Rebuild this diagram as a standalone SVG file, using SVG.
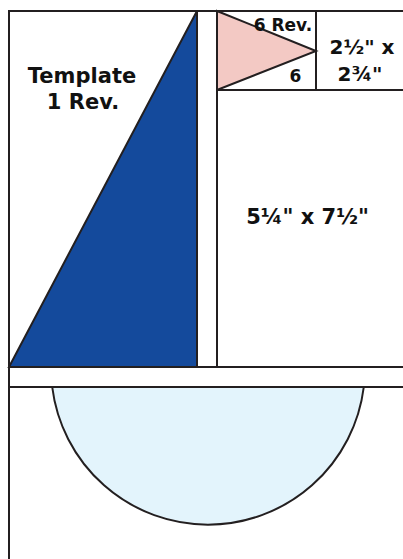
<svg xmlns="http://www.w3.org/2000/svg" width="403" height="559" viewBox="0 0 403 559">
<style>
.ln{stroke:#231f20;stroke-width:2;fill:none}
.sh{stroke:#231f20;stroke-width:2;stroke-linejoin:miter}
.t{font-family:"DejaVu Sans","Liberation Sans",sans-serif;font-weight:bold;fill:#111;font-size:21px}
.s{font-size:17px}
</style>
<rect width="403" height="559" fill="#fff"/>
<g id="sail-left">
<polygon class="sh" points="9,367 197,11 197,367" fill="#144a9c"/>
<text class="t" x="82" y="83" text-anchor="middle">Template</text>
<text class="t" x="83" y="109" text-anchor="middle">1 Rev.</text>
</g>
<g id="flag">
<polygon class="sh" points="217,11 316,51 217,90" fill="#f3c9c4"/>
<text class="t s" x="283" y="31" text-anchor="middle">6 Rev.</text>
<text class="t s" x="295.5" y="82" text-anchor="middle">6</text>
</g>
<g id="hull">
<path class="sh" d="M52.2,387 A157,157 0 0 0 363.8,387 Z" fill="#e3f4fc"/>
</g>
<g id="block-small">
<text class="t" x="362" y="54" text-anchor="middle" style="font-size:20px">2½" x</text>
<text class="t" x="360" y="81" text-anchor="middle" style="font-size:20px">2¾"</text>
</g>
<g id="block-large">
<text class="t" x="307.5" y="224" text-anchor="middle">5¼" x 7½"</text>
</g>
<g id="connectors">
<path class="ln" d="M9,559 V11 H403"/>
<path class="ln" d="M217,11 V367"/>
<path class="ln" d="M316,11 V90"/>
<path class="ln" d="M217,90 H403"/>
<path class="ln" d="M9,367 H403"/>
<path class="ln" d="M9,387 H403"/>
</g>
</svg>
